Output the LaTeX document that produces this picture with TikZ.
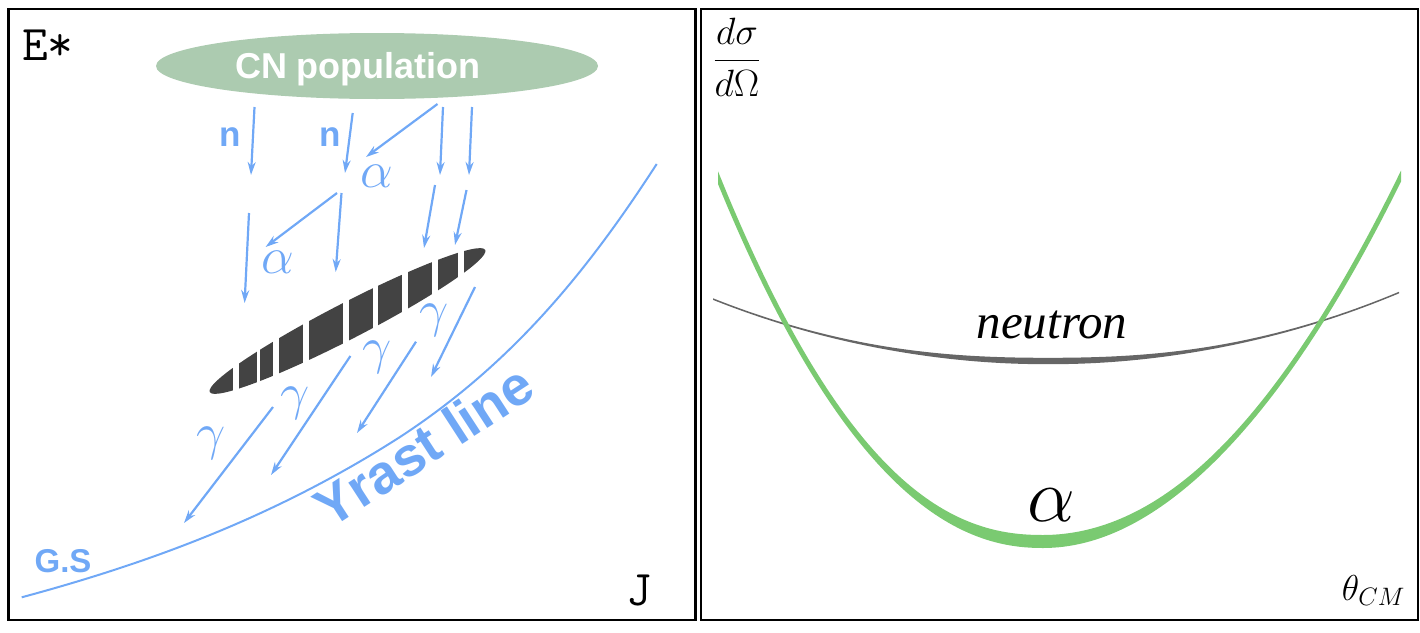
\documentclass[tikz,border=0pt]{standalone}
\usepackage{fix-cm}
\usepackage{fontspec}
\newfontfamily\sansbold{Liberation Sans}
\newfontfamily\serifitalic{Liberation Serif}
\usetikzlibrary{arrows.meta,shapes.geometric}

\definecolor{decayblue}{RGB}{112,168,246}
\definecolor{cngreen}{RGB}{172,203,176}
\definecolor{bandgray}{RGB}{67,67,67}
\definecolor{alphagreen}{RGB}{122,202,113}
\definecolor{neutrongray}{RGB}{102,102,102}

\tikzset{
  panel/.style={draw=black, line width=2.5pt},
  decay/.style={draw=decayblue, line width=2.2pt, -{Stealth[length=13pt,width=8pt]}},
  particle/.style={text=decayblue, inner sep=0pt, font=\fontsize{35}{40}\selectfont\sansbold\bfseries},
  greek/.style={text=decayblue, inner sep=0pt, font=\fontsize{52}{60}\selectfont},
  axislabel/.style={inner sep=0pt, font=\fontsize{50}{56}\selectfont\ttfamily},
  declare function={
    gl(\x)=541.5-27.2*pow(abs(\x-1043)/100+0.001,2.2);
    gr(\x)=541.5-28.5*pow(abs(\x-1043)/100+0.001,2);
    sl(\x)=0.598*pow(abs(\x-1043)/100+0.001,1.2);
    sr(\x)=0.57*(abs(\x-1043)/100+0.001);
    gh(\x)=2.4+4.1*exp(-((\x-1043)/100)*((\x-1043)/100)/1.5);
    nc(\x)=361-4.6*pow(abs(\x-1048)/100+0.001,2.15);
    nh(\x)=0.8+2.4*exp(-((\x-1048)/100)*((\x-1048)/100)/2);
  },
}

\begin{document}
\begin{tikzpicture}[x=1pt, y=-1pt]
\useasboundingbox (0,0) rectangle (1420,632);
% Panels
\draw[panel] (8.5,9) rectangle (695.5,620);
\draw[panel] (701,9) rectangle (1418,620);

% Left panel: axes
\node[axislabel, anchor=base west] (estar) at (22,60) {E*};
\node[axislabel, anchor=base] (spin) at (639,605) {J};

% CN population
\node[ellipse, fill=cngreen, minimum width=442, minimum height=66, inner sep=0pt] (cn) at (377,66) {};
\node[anchor=base, text=white, inner sep=0pt, font=\fontsize{36}{40}\selectfont\sansbold\bfseries] (cnlabel) at (358,78) {CN population};

% Yrast line
\coordinate (gsend) at (21.7,597.3);
\coordinate (yrastmid) at (400,437);
\coordinate (yrastend) at (656.7,164);
\draw[decayblue, line width=2pt] (gsend) .. controls (147.7,563.3) and (274,517.6) .. (yrastmid)
  .. controls (510,365) and (585,275) .. (yrastend);
\node[rotate=33, text=decayblue, inner sep=0pt, font=\fontsize{55}{60}\selectfont\sansbold\bfseries] (yrast) at (424,446) {Yrast line};
\node[particle, font=\fontsize{33}{38}\selectfont\sansbold\bfseries] (gs) at (63,561) {G.S};

% Deformed band
\node[ellipse, fill=bandgray, minimum width=310, minimum height=36, inner sep=0pt, rotate=27.3] (band) at (347.5,321) {};
\foreach \gx/\gw in {236.3/6, 258.3/3.5, 276.3/6, 306.3/6, 346.3/6, 375.5/5.6, 405.3/6, 435.3/6, 461.2/5.7}
  \draw[white, line width=\gw pt] (\gx,{321-0.516*(\gx-347.5)-30}) -- ++(0,60);

% Particle emission
\coordinate (n1a) at (254.5,107); \coordinate (n1b) at (251,175); \draw[decay] (n1a) -- (n1b);
\coordinate (n2a) at (352.7,113); \coordinate (n2b) at (345,173); \draw[decay] (n2a) -- (n2b);
\coordinate (a1a) at (437.5,104); \coordinate (a1b) at (366,157); \draw[decay] (a1a) -- (a1b);
\coordinate (c1a) at (443,107);   \coordinate (c1b) at (440,175); \draw[decay] (c1a) -- (c1b);
\coordinate (c2a) at (472,107);   \coordinate (c2b) at (469,175); \draw[decay] (c2a) -- (c2b);
\coordinate (a2a) at (337,193);   \coordinate (a2b) at (265.6,247); \draw[decay] (a2a) -- (a2b);
\coordinate (c3a) at (341.5,193); \coordinate (c3b) at (335.7,272); \draw[decay] (c3a) -- (c3b);
\coordinate (c4a) at (249,213);   \coordinate (c4b) at (244.6,303); \draw[decay] (c4a) -- (c4b);
\coordinate (c5a) at (435,185);   \coordinate (c5b) at (424,248); \draw[decay] (c5a) -- (c5b);
\coordinate (c6a) at (466.5,190); \coordinate (c6b) at (455,245); \draw[decay] (c6a) -- (c6b);

\node[particle] (nleft) at (230.5,137) {n};
\node[particle] (nright) at (330,137) {n};
\node[greek] (alphaup) at (377,176) {$\alpha$};
\node[greek] (alphadown) at (278,262) {$\alpha$};

% Gamma cascade
\coordinate (g1a) at (273,407);   \coordinate (g1b) at (184,523); \draw[decay] (g1a) -- (g1b);
\coordinate (g2a) at (350.4,356); \coordinate (g2b) at (271,475); \draw[decay] (g2a) -- (g2b);
\coordinate (g3a) at (416,341.7); \coordinate (g3b) at (357,433); \draw[decay] (g3a) -- (g3b);
\coordinate (g4a) at (475,287);   \coordinate (g4b) at (431,377); \draw[decay] (g4a) -- (g4b);

\node[greek] (gamma1) at (211,443) {$\gamma$};
\node[greek] (gamma2) at (295,403) {$\gamma$};
\node[greek] (gamma3) at (377,357) {$\gamma$};
\node[greek] (gamma4) at (434,320) {$\gamma$};

% Right panel: angular distributions
\node[inner sep=0pt, font=\fontsize{38}{46}\selectfont] (dsdo) at (737,57) {$\displaystyle\frac{d\sigma}{d\Omega}$};
\node[anchor=base east, inner sep=0pt, font=\fontsize{36}{40}\selectfont] (theta) at (1405,600) {$\theta_{CM}$};

% neutron
\fill[neutrongray] plot[domain=713:1399, samples=80] (\x,{nc(\x)-nh(\x)})
  -- plot[domain=1399:713, samples=80] (\x,{nc(\x)+nh(\x)}) -- cycle;
\node[anchor=base, inner sep=0pt, font=\fontsize{49}{54}\selectfont\serifitalic\itshape] (nlabel) at (1052,338) {neutron};

% alpha
\fill[alphagreen] plot[domain=718:1043, samples=70] (\x,{gl(\x)+gh(\x)*sqrt(1+sl(\x)*sl(\x))})
  -- plot[domain=1043:718, samples=70] (\x,{gl(\x)-gh(\x)*sqrt(1+sl(\x)*sl(\x))}) -- cycle;
\fill[alphagreen] plot[domain=1043:1401, samples=70] (\x,{gr(\x)+gh(\x)*sqrt(1+sr(\x)*sr(\x))})
  -- plot[domain=1401:1043, samples=70] (\x,{gr(\x)-gh(\x)*sqrt(1+sr(\x)*sr(\x))}) -- cycle;
\node[inner sep=0pt, font=\fontsize{76}{80}\selectfont] (alabel) at (1051,505) {$\alpha$};
\end{tikzpicture}
\end{document}
